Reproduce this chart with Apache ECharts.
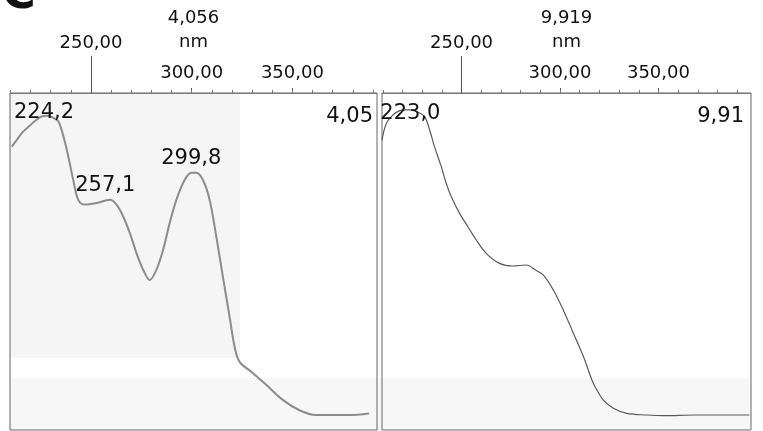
<!DOCTYPE html>
<html><head><meta charset="utf-8">
<script src="https://cdn.jsdelivr.net/npm/echarts@6/dist/echarts.min.js"></script>
<style>html,body{margin:0;padding:0;background:#fff}#c{width:763px;height:431px}</style>
</head><body><div id="c"></div>
<script>
// ---- data ----
const leftNm  = [210.7,213,216,219.8,222.5,225.5,228.5,231.5,233.8,236.3,238.8,241.2,243.7,247.0,252.8,259.4,262.7,266.0,269.3,272.6,275.9,279.2,282.5,285.8,289.1,292.4,296.5,299.9,302.3,305.6,308.9,312.2,315.5,318.8,321.3,323.8,330.3,337.0,345.2,353.5,361.7,370.0,378.2,388.1];
const leftAbs = [3.38,3.46,3.56,3.65,3.71,3.76,3.77,3.74,3.70,3.51,3.25,2.96,2.71,2.65,2.67,2.71,2.65,2.50,2.29,2.04,1.83,1.70,1.83,2.08,2.42,2.71,2.96,3.05,3.05,2.96,2.71,2.25,1.74,1.24,0.86,0.67,0.53,0.38,0.19,0.06,0.0,0.0,0.0,0.02];
const rightNm  = [209.6,211.8,215.1,218,221,224,227.5,231.2,233.8,236.3,239.7,242.2,244.8,249.0,253.2,257.5,262.5,269.3,276.0,282.8,287.9,291.6,296.6,301.7,306.8,311.9,316.2,318.7,322.0,327.1,333.9,344.1,352.2,369.1,396.2];
const rightAbs = [8.47,8.98,9.24,9.36,9.40,9.40,9.34,9.19,8.78,8.26,7.65,7.14,6.72,6.21,5.80,5.39,4.98,4.67,4.59,4.62,4.45,4.31,3.85,3.23,2.52,1.80,1.08,0.77,0.46,0.21,0.05,0.0,-0.02,0.0,0.0];
const leftPeakNm  = [224.2, 257.1, 299.8];
const leftPeakAbs = [3.74, 2.71, 3.05];
const rightPeakNm  = [223.0];
const rightPeakAbs = [9.40];
const leftMaxAbs = 4.056;
const rightMaxAbs = 9.919;
const leftRange = [209.8, 392];
const rightRange = [209.6, 397];
const lowLabelTicks = [300, 350];
const highLabelTicks = [250];

// ---- helpers ----
const fmt = (v, d) => v.toFixed(d).replace('.', ',');
const trunc2 = v => (Math.floor(v * 100 + 1e-9) / 100).toFixed(2).replace('.', ',');
const FONT = 'DejaVu Sans';
const INK = '#111';
function minorTicks(range){ const a=[]; for(let v=Math.ceil(range[0]/10)*10; v<=range[1]; v+=10) a.push(v); return a; }
function zip(a,b){ return a.map((x,i)=>[x,b[i]]); }

function xAxesFor(g, range, maxAbs){
  return [
    { gridIndex:g, type:'value', position:'top', min:range[0], max:range[1],
      axisLine:{show:true, onZero:false, lineStyle:{color:'#7a7a7a', width:1}},
      axisTick:{show:true, customValues:lowLabelTicks, length:5, lineStyle:{color:'#555'}},
      axisLabel:{show:true, customValues:lowLabelTicks, formatter:v=>fmt(v,2), margin:11, fontSize:18, fontFamily:FONT, color:INK},
      splitLine:{show:false},
      name: fmt(maxAbs,3) + '\nnm', nameLocation:'middle', nameGap:39,
      nameTextStyle:{fontSize:18, fontFamily:FONT, color:INK, lineHeight:24} },
    { gridIndex:g, type:'value', position:'top', min:range[0], max:range[1],
      axisLine:{show:false, onZero:false},
      axisTick:{show:true, customValues:minorTicks(range), length:3, lineStyle:{color:'#777'}},
      axisLabel:{show:false}, splitLine:{show:false} },
    { gridIndex:g, type:'value', position:'top', min:range[0], max:range[1],
      axisLine:{show:false, onZero:false},
      axisTick:{show:true, customValues:highLabelTicks, length:37, lineStyle:{color:'#555'}},
      axisLabel:{show:true, customValues:highLabelTicks, formatter:v=>fmt(v,2), margin:41, fontSize:18, fontFamily:FONT, color:INK},
      splitLine:{show:false} }
  ];
}
function yAxisFor(g, maxAbs, margin){
  return { gridIndex:g, type:'value', position:'right', min:-maxAbs*15/322, max:maxAbs,
    axisLine:{show:false}, axisTick:{show:false}, splitLine:{show:false},
    axisLabel:{show:true, inside:true, customValues:[maxAbs], formatter:v=>trunc2(v),
      verticalAlign:'top', padding:[13,0,0,0], margin:margin, fontSize:21, fontFamily:FONT, color:INK} };
}
function peakSeries(xi, yi, nm, abs, offsets){
  return { type:'scatter', xAxisIndex:xi, yAxisIndex:yi, symbol:'circle', symbolSize:0,
    itemStyle:{color:INK, opacity:1}, z:5, silent:true,
    data: nm.map((x,i)=>({ value:[x, abs[i]], label:{offset:offsets[i]} })),
    label:{show:true, position:'inside', formatter:p=>fmt(p.value[0],1), fontSize:21, fontFamily:FONT,
      color:INK, opacity:1, textBorderWidth:0} };
}

const chart = echarts.init(document.getElementById('c'), null, {renderer:'canvas'});
chart.setOption({
  backgroundColor:'#fff',
  animation:false,
  graphic:[
    {type:'rect', z:-1, shape:{x:10, y:93, width:230, height:265}, style:{fill:'#f5f5f5'}},
    {type:'rect', z:-1, shape:{x:10, y:378, width:741, height:52}, style:{fill:'#f7f7f7'}},
    {type:'text', left:2, top:-27, style:{text:'C', fontSize:46, fontWeight:'bold', fontFamily:FONT, fill:INK}}
  ],
  grid:[
    {left:10, top:93, width:367, height:337, show:true, borderColor:'#666', borderWidth:1, backgroundColor:'transparent'},
    {left:382, top:93, width:369, height:337, show:true, borderColor:'#666', borderWidth:1, backgroundColor:'transparent'}
  ],
  xAxis: [...xAxesFor(0, leftRange, leftMaxAbs), ...xAxesFor(1, rightRange, rightMaxAbs)],
  yAxis: [yAxisFor(0, leftMaxAbs, 4), yAxisFor(1, rightMaxAbs, 7)],
  series:[
    { type:'line', xAxisIndex:0, yAxisIndex:0, data:zip(leftNm,leftAbs), smooth:0.35, symbol:'none',
      lineStyle:{color:'#8c8c8c', width:2} },
    { type:'line', xAxisIndex:3, yAxisIndex:1, data:zip(rightNm,rightAbs), smooth:0.35, symbol:'none',
      lineStyle:{color:'#5a5a5a', width:1.2} },
    peakSeries(0, 0, leftPeakNm, leftPeakAbs, [[5,-6],[0,-14],[0,-14]]),
    peakSeries(3, 1, rightPeakNm, rightPeakAbs, [[2,4]])
  ]
});
</script></body></html>
